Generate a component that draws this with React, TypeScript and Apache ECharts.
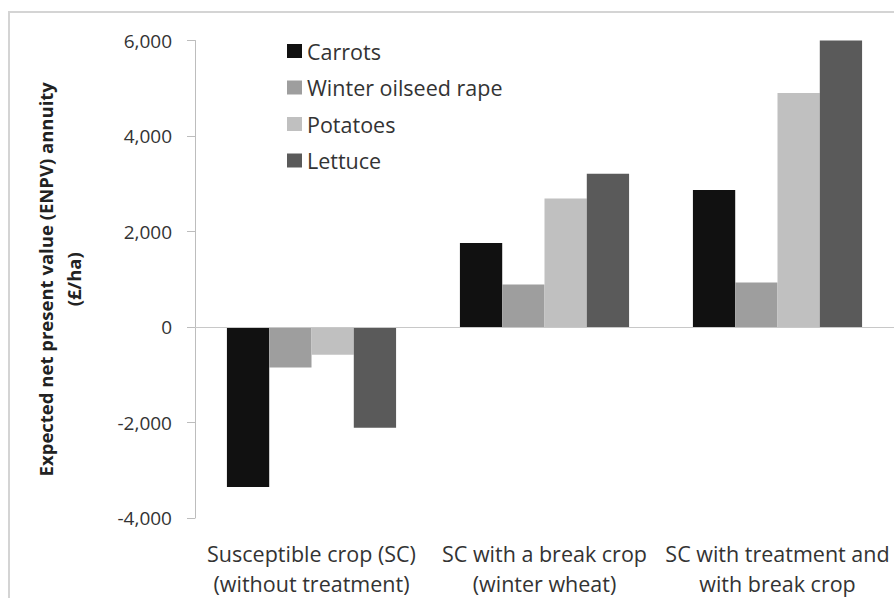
import React, { useEffect, useRef } from "react";
import * as echarts from "echarts";

const categories = [
  "Susceptible crop (SC)\n(without treatment)",
  "SC with a break crop\n(winter wheat)",
  "SC with treatment and\nwith break crop",
];
const seriesNames = ["Carrots", "Winter oilseed rape", "Potatoes", "Lettuce"];
const carrots = [-3350, 1760, 2870];
const winterOilseedRape = [-850, 890, 930];
const potatoes = [-580, 2690, 4900];
const lettuce = [-2110, 3210, 6000];
const colors = ["#111111", "#9e9e9e", "#c0c0c0", "#5a5a5a"];
const yTicks = { min: -4000, max: 6000, interval: 2000 };

const FONT = "Open Sans";

export default function App() {
  const ref = useRef<HTMLDivElement>(null);
  useEffect(() => {
    if (!ref.current) return;
    const chart = echarts.init(ref.current, undefined, { renderer: "svg" });
    const values = [carrots, winterOilseedRape, potatoes, lettuce];
    chart.setOption({
      animation: false,
      backgroundColor: "#ffffff",
      textStyle: { fontFamily: FONT },
      graphic: [
        {
          type: "rect",
          shape: { x: 9, y: 12, width: 900, height: 600 },
          style: { fill: "none", stroke: "#d4d4d4", lineWidth: 2 },
          silent: true,
        },
      ],
      legend: {
        orient: "vertical",
        left: 287,
        top: 38,
        padding: 0,
        itemWidth: 15,
        itemHeight: 14,
        itemGap: 10.5,
        icon: "rect",
        data: seriesNames,
        textStyle: {
          fontFamily: FONT,
          fontSize: 21.5,
          lineHeight: 26,
          color: "#333333",
        },
      },
      grid: { left: 195, top: 40.5, width: 711, height: 483.5 },
      xAxis: {
        type: "category",
        data: categories,
        axisLine: { show: false, onZero: false },
        axisTick: { show: false },
        axisLabel: {
          interval: 0,
          margin: 20,
          fontFamily: FONT,
          fontSize: 21.5,
          lineHeight: 30,
          color: "#333333",
        },
      },
      yAxis: {
        type: "value",
        min: yTicks.min,
        max: yTicks.max,
        interval: yTicks.interval,
        splitLine: { show: false },
        axisLine: { show: true, lineStyle: { color: "#bdbdbd", width: 1 } },
        axisTick: { show: true, length: 8, lineStyle: { color: "#bdbdbd" } },
        axisLabel: {
          margin: 23,
          fontFamily: FONT,
          fontSize: 19,
          color: "#333333",
          formatter: (v: number) => v.toLocaleString("en-US"),
        },
        name: "Expected net present value (ENPV) annuity\n(£/ha)",
        nameLocation: "middle",
        nameGap: 108,
        nameTextStyle: {
          fontFamily: FONT,
          fontSize: 18.5,
          fontWeight: "bold",
          lineHeight: 28,
          color: "#222222",
        },
      },
      series: seriesNames.map((name, i) => ({
        name,
        type: "bar",
        data: values[i],
        barGap: "0%",
        barCategoryGap: "27.4%",
        itemStyle: { color: colors[i] },
        markLine:
          i === 0
            ? {
                silent: true,
                symbol: "none",
                label: { show: false },
                lineStyle: { color: "#c8c8c8", type: "solid", width: 1 },
                data: [{ yAxis: 0 }],
              }
            : undefined,
      })),
    });
    return () => chart.dispose();
  }, []);
  return (
    <div
      ref={ref}
      style={{ position: "absolute", left: 0, top: 0, width: 894, height: 598 }}
    />
  );
}
